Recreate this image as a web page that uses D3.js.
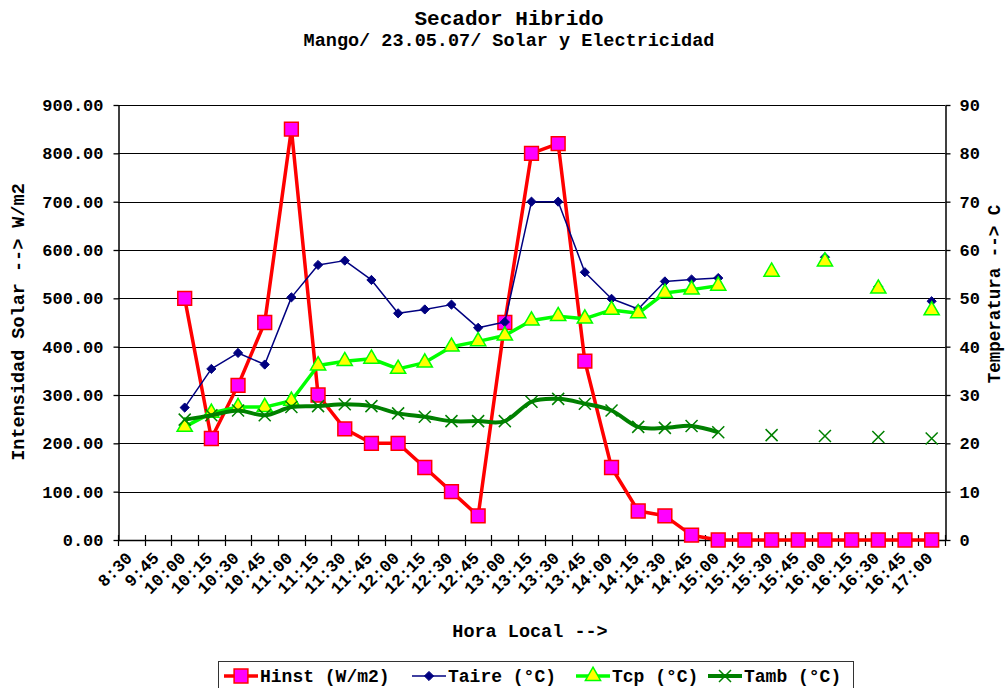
<!DOCTYPE html>
<html>
<head>
<meta charset="utf-8">
<script src="https://cdn.jsdelivr.net/npm/d3@7"></script>
<style>
  body { margin: 0; background: #fff; }
  svg { display: block; }
  text { font-family: "Liberation Mono", "Courier New", monospace; font-weight: bold; fill: #000; }
</style>
</head>
<body>
<div id="chart"></div>
<script>
// category labels (hora local)
const hours = ["8:30", "9:45", "10:00", "10:15", "10:30", "10:45", "11:00", "11:15", "11:30", "11:45",
  "12:00", "12:15", "12:30", "12:45", "13:00", "13:15", "13:30", "13:45", "14:00", "14:15",
  "14:30", "14:45", "15:00", "15:15", "15:30", "15:45", "16:00", "16:15", "16:30", "16:45", "17:00"];

// Intensidad solar W/m2 (left axis)
const hinst = [null, null, 500, 210, 320, 450, 850, 300, 230, 200,
  200, 150, 100, 50, 450, 800, 820, 370, 150, 60,
  50, 10, 0, 0, 0, 0, 0, 0, 0, 0, 0];

// temperatures in C (right axis)
const taire = [null, null, 27.4, 35.4, 38.7, 36.3, 50.2, 56.9, 57.8, 53.8,
  46.9, 47.7, 48.7, 43.9, 45.1, 70.0, 70.0, 55.4, 49.9, 47.8,
  53.5, 53.9, 54.2, null, 55.6, null, 58.5, null, 52.4, null, 49.4];
const tcp = [null, null, 23.4, 26.3, 27.5, 27.5, 28.8, 36.1, 37.0, 37.5,
  35.4, 36.7, 40.0, 41.1, 42.3, 45.4, 46.3, 45.8, 47.6, 46.9,
  51.1, 51.8, 52.6, null, 55.5, null, 57.6, null, 52.0, null, 47.5];
const tamb = [null, null, 24.9, 25.8, 26.8, 25.8, 27.5, 27.7, 28.1, 27.7,
  26.2, 25.5, 24.6, 24.6, 24.6, 28.6, 29.2, 28.2, 26.8, 23.4,
  23.2, 23.6, 22.3, null, 21.7, null, 21.5, null, 21.3, null, 21.0];

const leftTicks = [0, 100, 200, 300, 400, 500, 600, 700, 800, 900];
const rightTicks = [0, 10, 20, 30, 40, 50, 60, 70, 80, 90];

const width = 1006, height = 688;
const plot = { left: 118, right: 945, top: 105, bottom: 540 };

const svg = d3.select('#chart').append('svg')
  .attr('width', width)
  .attr('height', height);

const x = d3.scaleBand().domain(hours).range([plot.left, plot.right]);
const cx = h => x(h) + x.bandwidth() / 2;
const yL = d3.scaleLinear().domain([0, 900]).range([plot.bottom, plot.top]);
const yR = d3.scaleLinear().domain([0, 90]).range([plot.bottom, plot.top]);

// titles
svg.append('text').attr('x', 509).attr('y', 25).attr('text-anchor', 'middle')
  .style('font-size', '21px').text('Secador Hibrido');
svg.append('text').attr('x', 509).attr('y', 46).attr('text-anchor', 'middle')
  .style('font-size', '18.5px').text('Mango/ 23.05.07/ Solar y Electricidad');

// gridlines
svg.append('g')
  .selectAll('line')
  .data(leftTicks.filter(d => d > 0))
  .join('line')
  .attr('x1', plot.left).attr('x2', plot.right)
  .attr('y1', d => Math.round(yL(d)) + 0.5).attr('y2', d => Math.round(yL(d)) + 0.5)
  .attr('stroke', '#000').attr('stroke-width', 1);

// left axis
const gl = svg.append('g')
  .attr('transform', `translate(${plot.left + 0.5},0)`)
  .call(d3.axisLeft(yL).tickValues(leftTicks).tickFormat(d3.format('.2f')).tickSize(5).tickSizeOuter(0).tickPadding(10));
gl.selectAll('text').style('font-size', '17px');

// right axis
const gr = svg.append('g')
  .attr('transform', `translate(${plot.right + 0.5},0)`)
  .call(d3.axisRight(yR).tickValues(rightTicks).tickFormat(d3.format('d')).tickSize(5).tickSizeOuter(0).tickPadding(9));
gr.selectAll('text').style('font-size', '17px');

[gl, gr].forEach(g => {
  g.selectAll('path, line').attr('stroke', '#000').attr('stroke-width', 1.3);
  g.select('.domain').attr('stroke-width', 1.5);
  g.selectAll('text').attr('fill', '#000');
});

// category axis
const gx = svg.append('g');
gx.append('line')
  .attr('x1', plot.left).attr('x2', plot.right)
  .attr('y1', plot.bottom + 0.5).attr('y2', plot.bottom + 0.5)
  .attr('stroke', '#000').attr('stroke-width', 1.5);
gx.selectAll('.xtick')
  .data(hours.map(h => x(h)).concat([plot.right]))
  .join('line')
  .attr('class', 'xtick')
  .attr('x1', d => Math.round(d) + 0.5).attr('x2', d => Math.round(d) + 0.5)
  .attr('y1', plot.bottom - 5).attr('y2', plot.bottom + 6)
  .attr('stroke', '#000').attr('stroke-width', 1.2);
gx.selectAll('.xlab')
  .data(hours)
  .join('text')
  .attr('class', 'xlab')
  .attr('text-anchor', 'end')
  .attr('transform', h => `translate(${cx(h) + 2},${plot.bottom + 19}) rotate(-45)`)
  .style('font-size', '17px')
  .text(h => h);

// axis titles
svg.append('text').attr('x', 530).attr('y', 637).attr('text-anchor', 'middle')
  .style('font-size', '18.5px').text('Hora Local -->');
svg.append('text').attr('transform', 'translate(24,322) rotate(-90)').attr('text-anchor', 'middle')
  .style('font-size', '18.5px').text('Intensidad Solar --> W/m2');
svg.append('text').attr('transform', 'translate(1000,294) rotate(-90)').attr('text-anchor', 'middle')
  .style('font-size', '17.5px').text('Temperatura --> C');

// marker shapes
const markers = {
  square: d3.symbol().type(d3.symbolSquare).size(190),
  diamond: () => 'M0,-4.6L4.6,0L0,4.6L-4.6,0Z',
  triangle: d3.symbol().type(d3.symbolTriangle).size(100),
  cross: () => 'M-6,-6L6,6M-6,6L6,-6'
};

const series = [
  { name: 'Hinst (W/m2)', values: hinst, y: yL, line: '#ff0000', lw: 3.5, curve: d3.curveLinear,
    marker: 'square', fill: '#ff00ff', stroke: '#ff0000', mw: 1.5 },
  { name: 'Taire (°C)', values: taire, y: yR, line: '#000080', lw: 1.5, curve: d3.curveLinear,
    marker: 'diamond', fill: '#000080', stroke: '#000080', mw: 1 },
  { name: 'Tcp (°C)', values: tcp, y: yR, line: '#00ff00', lw: 3.5, curve: d3.curveLinear,
    marker: 'triangle', fill: '#ffff00', stroke: '#00ff00', mw: 1.5 },
  { name: 'Tamb (°C)', values: tamb, y: yR, line: '#008000', lw: 4, curve: d3.curveCatmullRom.alpha(0),
    marker: 'cross', fill: 'none', stroke: '#008000', mw: 1.5 }
];

series.forEach(s => {
  const pts = hours.map((h, i) => ({ h, v: s.values[i] }));
  const line = d3.line()
    .defined(d => d.v !== null)
    .x(d => cx(d.h))
    .y(d => s.y(d.v))
    .curve(s.curve);
  svg.append('path')
    .datum(pts)
    .attr('d', line)
    .attr('fill', 'none')
    .attr('stroke', s.line)
    .attr('stroke-width', s.lw)
    .attr('stroke-linejoin', 'round');
  svg.append('g')
    .selectAll('path')
    .data(pts.filter(d => d.v !== null))
    .join('path')
    .attr('transform', d => `translate(${cx(d.h)},${s.y(d.v)})`)
    .attr('d', markers[s.marker])
    .attr('fill', s.fill)
    .attr('stroke', s.stroke)
    .attr('stroke-width', s.mw);
});

// legend
const lg = svg.append('g');
lg.append('rect')
  .attr('x', 218.5).attr('y', 661.5).attr('width', 635).attr('height', 40)
  .attr('fill', '#fff').attr('stroke', '#333').attr('stroke-width', 1);
const legendX = [224, 412, 576, 708];
series.forEach((s, i) => {
  const x0 = legendX[i];
  lg.append('line')
    .attr('x1', x0).attr('x2', x0 + 34)
    .attr('y1', 676).attr('y2', 676)
    .attr('stroke', s.line).attr('stroke-width', s.lw);
  lg.append('path')
    .attr('transform', `translate(${x0 + 17},676)`)
    .attr('d', markers[s.marker])
    .attr('fill', s.fill)
    .attr('stroke', s.stroke)
    .attr('stroke-width', s.mw);
  lg.append('text')
    .attr('x', x0 + 36).attr('y', 682)
    .style('font-size', '18px')
    .text(s.name);
});
</script>
</body>
</html>
